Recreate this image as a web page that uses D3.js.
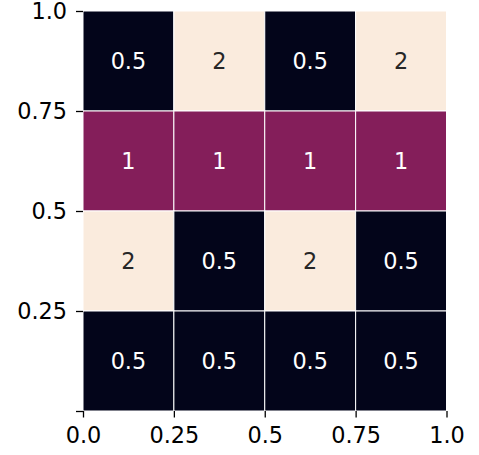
<!DOCTYPE html>
<html>
<head>
<meta charset="utf-8">
<script src="https://cdn.jsdelivr.net/npm/d3@7"></script>
<style>
html,body{margin:0;padding:0;background:#fff;}
svg{display:block;}
text{font-family:"DejaVu Sans",sans-serif;}
</style>
</head>
<body>
<svg id="chart" width="479" height="455"></svg>
<script>
const xTickValues = [0, 0.25, 0.5, 0.75, 1];
const xTickLabels = ["0.0", "0.25", "0.5", "0.75", "1.0"];
const yTickValues = [0, 0.25, 0.5, 0.75, 1];
const yTickLabels = ["", "0.25", "0.5", "0.75", "1.0"];
const colEdges = [0, 0.25, 0.5, 0.75, 1];
const rowEdges = [1, 0.75, 0.5, 0.25, 0];
const row1 = [0.5, 2, 0.5, 2];
const row2 = [1, 1, 1, 1];
const row3 = [2, 0.5, 2, 0.5];
const row4 = [0.5, 0.5, 0.5, 0.5];
const rows = [row1, row2, row3, row4];
const colorStops = ["#03051a", "#841e5a", "#faebdd"];
const valueStops = [0.5, 1, 2];

const svg = d3.select("#chart");
const mLeft = 83, mRight = 446.5, mTop = 11, mBottom = 411;
const x = d3.scaleLinear().domain([0, 1]).range([mLeft, mRight]);
const y = d3.scaleLinear().domain([0, 1]).range([mBottom, mTop]);
const color = d3.scaleLog().domain(valueStops).range(colorStops).interpolate(d3.interpolateRgb);

const cells = [];
rows.forEach((r, i) => r.forEach((v, j) => cells.push({
  x0: colEdges[j], x1: colEdges[j + 1], y0: rowEdges[i], y1: rowEdges[i + 1], v
})));

const g = svg.append("g");
g.selectAll("rect").data(cells).join("rect")
  .attr("x", d => x(d.x0))
  .attr("y", d => y(d.y0))
  .attr("width", d => x(d.x1) - x(d.x0))
  .attr("height", d => y(d.y1) - y(d.y0))
  .attr("fill", d => color(d.v))
  .attr("stroke", "#ffffff")
  .attr("stroke-width", 1);

g.selectAll("text.val").data(cells).join("text")
  .attr("class", "val")
  .attr("x", d => (x(d.x0) + x(d.x1)) / 2)
  .attr("y", d => (y(d.y0) + y(d.y1)) / 2)
  .attr("text-anchor", "middle")
  .attr("dominant-baseline", "central")
  .attr("font-size", 22.4)
  .attr("fill", d => d.v >= 2 ? "#262626" : "#ffffff")
  .text(d => String(d.v));

const xAxis = d3.axisBottom(x).tickValues(xTickValues)
  .tickFormat((d, i) => xTickLabels[i]).tickSize(6.5).tickPadding(9.5);
const yAxis = d3.axisLeft(y).tickValues(yTickValues)
  .tickFormat((d, i) => yTickLabels[i]).tickSize(7).tickPadding(9);

const gx = svg.append("g").attr("transform", `translate(0,${mBottom})`).call(xAxis);
const gy = svg.append("g").attr("transform", `translate(${mLeft},0)`).call(yAxis);
[gx, gy].forEach(a => {
  a.select(".domain").remove();
  a.selectAll("line").attr("stroke", "#000").attr("stroke-width", 1.3);
  a.selectAll("text").attr("font-size", 22.4).attr("fill", "#000")
    .attr("font-family", "DejaVu Sans, sans-serif");
});
</script>
</body>
</html>
